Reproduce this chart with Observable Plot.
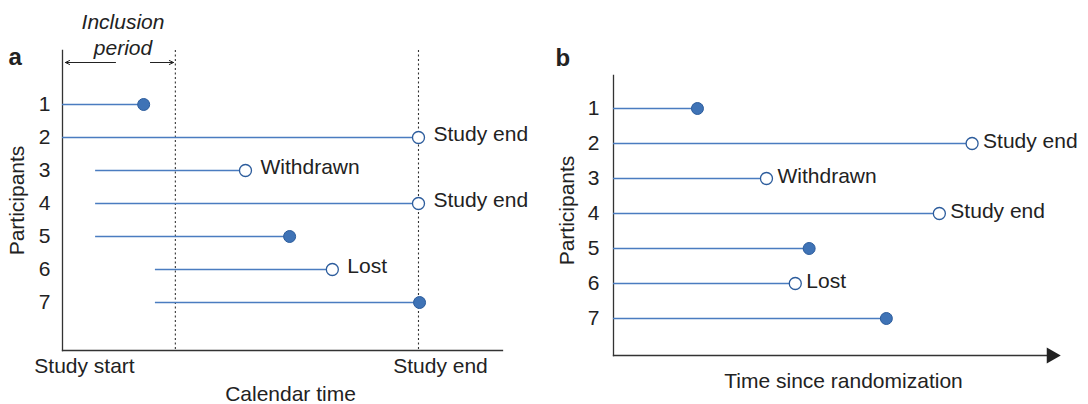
<!DOCTYPE html>
<html>
<head>
<meta charset="utf-8">
<script src="https://cdn.jsdelivr.net/npm/d3@7"></script>
<script src="https://cdn.jsdelivr.net/npm/@observablehq/plot@0.6"></script>
<style>
  html, body { margin: 0; padding: 0; background: #fff; }
  #chart { display: flex; width: 1088px; height: 404px; }
</style>
</head>
<body>
<div id="chart"></div>
<script>
// ---- data ----
const participants = ["1", "2", "3", "4", "5", "6", "7"];
const calendarStart = [0, 0, 9.3, 9.3, 9.3, 26.1, 26.1];
const calendarEnd = [22.8, 100, 51.4, 100, 63.8, 75.8, 100.3];
const timeSinceRandomization = [23.6, 100.8, 43, 91.6, 55, 51.1, 76.7];
const outcome = ["event", "censored", "censored", "censored", "event", "censored", "event"];
const endLabel = ["", "Study end", "Withdrawn", "Study end", "", "Lost", ""];
const inclusionEnd = 31.7;
const studyEnd = 100;
const calendarTicks = [0, 100];
const calendarTickLabels = ["Study start", "Study end"];

const rows = participants.map((p, i) => ({
  p, start: calendarStart[i], end: calendarEnd[i], t: timeSinceRandomization[i],
  outcome: outcome[i], label: endLabel[i]
}));

const lineColor = "#4a7cc0";
const dotFill = "#3f73b6";
const dotStroke = "#2c5c9c";
const ink = "#222";
const FS = 21;
const style = { fontFamily: "'Liberation Sans', Arial, sans-serif", fontSize: FS + "px", color: ink, background: "white" };

const panelA = Plot.plot({
  width: 545, height: 404,
  marginLeft: 62, marginRight: 43, marginTop: 50, marginBottom: 54,
  style,
  x: { domain: [0, 123.6] },
  y: { type: "point", domain: participants, range: [103, 303], padding: 0 },
  marks: [
    Plot.frame({ anchor: "left", stroke: "#333", strokeWidth: 1.3 }),
    Plot.frame({ anchor: "bottom", stroke: "#333", strokeWidth: 1.3 }),
    Plot.ruleX([inclusionEnd, studyEnd], { stroke: "#333", strokeDasharray: "2,2.5", strokeWidth: 1.1 }),
    Plot.ruleY(rows, { y: "p", x1: "start", x2: "end", stroke: lineColor, strokeWidth: 1.3 }),
    Plot.dot(rows.filter(d => d.outcome === "event"), { x: "end", y: "p", r: 6, fill: dotFill, stroke: dotStroke, strokeWidth: 1 }),
    Plot.dot(rows.filter(d => d.outcome !== "event"), { x: "end", y: "p", r: 6, fill: "white", stroke: dotStroke, strokeWidth: 1.3 }),
    Plot.text(rows.filter(d => d.label), { x: "end", y: "p", text: "label", textAnchor: "start", dx: 15, dy: -3, fill: ink, fontSize: FS }),
    Plot.arrow([{ a: 14.9, b: 0.8 }, { a: 24.7, b: 31.2 }], { x1: "a", x2: "b", y1: () => "1", y2: () => "1", dy: -42, stroke: ink, strokeWidth: 1, headLength: 7, headAngle: 50 }),
    Plot.text(["Inclusion\nperiod"], { x: () => 17, frameAnchor: "top", lineAnchor: "middle", dy: -17, lineHeight: 1.25, fontStyle: "italic", fontSize: FS, fill: ink }),
    Plot.text(["a"], { frameAnchor: "top-left", lineAnchor: "middle", textAnchor: "start", dx: -54, dy: 7, fontWeight: "bold", fontSize: 24, fill: ink }),
    Plot.text(["Participants"], { frameAnchor: "left", lineAnchor: "middle", textAnchor: "middle", dx: -45, rotate: -90, fontSize: FS, fill: ink }),
    Plot.text(["Calendar time"], { frameAnchor: "bottom", lineAnchor: "middle", dx: 8, dy: 44, fontSize: FS, fill: ink }),
    Plot.axisY({ tickSize: 0, tickPadding: 12, label: null, fontSize: FS }),
    Plot.axisX({ ticks: calendarTicks, tickFormat: d => calendarTickLabels[calendarTicks.indexOf(d)], tickSize: 0, tickPadding: 8, dx: 22, label: null, fontSize: FS })
  ]
});

const panelB = Plot.plot({
  width: 543, height: 404,
  marginLeft: 68, marginRight: 41, marginTop: 75, marginBottom: 49,
  style,
  x: { domain: [0, 122], axis: null },
  y: { type: "point", domain: participants, range: [108, 318], padding: 0 },
  marks: [
    Plot.frame({ anchor: "left", stroke: "#333", strokeWidth: 1.3 }),
    Plot.frame({ anchor: "bottom", stroke: "#333", strokeWidth: 1.3 }),
    Plot.dot([123.1], { x: d => d, frameAnchor: "bottom", symbol: "triangle", rotate: 90, r: 6, fill: "#222" }),
    Plot.ruleY(rows, { y: "p", x1: 0, x2: "t", stroke: lineColor, strokeWidth: 1.3 }),
    Plot.dot(rows.filter(d => d.outcome === "event"), { x: "t", y: "p", r: 6, fill: dotFill, stroke: dotStroke, strokeWidth: 1 }),
    Plot.dot(rows.filter(d => d.outcome !== "event"), { x: "t", y: "p", r: 6, fill: "white", stroke: dotStroke, strokeWidth: 1.3 }),
    Plot.text(rows.filter(d => d.label), { x: "t", y: "p", text: "label", textAnchor: "start", dx: 11, dy: -2, fill: ink, fontSize: FS }),
    Plot.text(["b"], { frameAnchor: "top-left", lineAnchor: "middle", textAnchor: "start", dx: -58, dy: -17, fontWeight: "bold", fontSize: 24, fill: ink }),
    Plot.text(["Participants"], { frameAnchor: "left", lineAnchor: "middle", textAnchor: "middle", dx: -46, dy: -5, rotate: -90, fontSize: FS, fill: ink }),
    Plot.text(["Time since randomization"], { frameAnchor: "bottom", lineAnchor: "middle", dx: 13, dy: 26, fontSize: FS, fill: ink }),
    Plot.axisY({ tickSize: 0, tickPadding: 14, label: null, fontSize: FS })
  ]
});

document.getElementById("chart").append(panelA, panelB);
</script>
</body>
</html>
